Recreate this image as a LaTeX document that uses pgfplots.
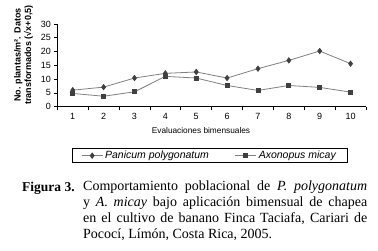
\documentclass[border=0pt]{standalone}
\usepackage{fontspec}
\setmainfont{Liberation Serif}
\newfontfamily\arial{Liberation Sans}
\usepackage{pgfplots}
\pgfplotsset{compat=1.18}
\definecolor{linegray}{gray}{0.5}
\definecolor{markgray}{gray}{0.25}
\begin{document}
\begin{tikzpicture}
\useasboundingbox (0,0) rectangle (378pt,250pt);
\begin{axis}[
  at={(57.3pt,143.3pt)}, anchor=south west,
  scale only axis, width=308.7pt, height=82.7pt,
  xmin=0.5, xmax=10.5, ymin=0, ymax=30,
  axis x line*=bottom, axis y line*=left,
  axis line style={-, black, line width=0.6pt},
  xtick={1,...,10},
  minor xtick={0.5,1.5,...,10.5},
  ytick={0,5,...,30},
  major x tick style={draw=none},
  minor x tick style={draw=black, line width=0.6pt},
  major y tick style={draw=black, line width=0.6pt},
  tick align=outside,
  major tick length=3pt, minor tick length=3pt,
  /pgf/number format/assume math mode=true,
  ticklabel style={font=\arial\fontsize{9}{10}\selectfont},
  legend style={at={(axis description cs:0.0476,-0.681)}, anchor=south west,
    draw=black, line width=0.6pt, inner xsep=9pt, inner ysep=0.5pt,
    font=\arial\itshape\fontsize{10.5}{12}\selectfont,
    /tikz/every even column/.style={column sep=24pt}},
  legend columns=2,
  legend image code/.code={\draw[mark repeat=2,mark phase=2,#1] plot coordinates {(0pt,0pt) (10.5pt,0pt) (21pt,0pt)};},
]
\addplot[linegray, line width=0.8pt, mark=diamond*, mark size=2.6pt,
  mark options={fill=markgray, draw=markgray}] coordinates {
  (1,6.0) (2,7.1) (3,10.4) (4,12.1) (5,12.6) (6,10.4) (7,13.8) (8,16.8) (9,20.2) (10,15.6)};
\addlegendentry{Panicum polygonatum}
\addplot[linegray, line width=0.8pt, mark=square*, mark size=2pt,
  mark options={fill=markgray, draw=markgray}] coordinates {
  (1,4.8) (2,3.8) (3,5.4) (4,11.0) (5,10.4) (6,7.7) (7,5.9) (8,7.7) (9,7.0) (10,5.3)};
\addlegendentry{Axonopus micay}
\end{axis}
\node[rotate=90, align=center, font=\arial\bfseries\fontsize{9}{10.5}\selectfont, inner sep=0]
  at (23.5pt,195pt) {No. plantas/m². Datos\\transformados (√x+0,5)};
\node[font=\arial\fontsize{8.3}{9}\selectfont, inner sep=0] at (201pt,119pt) {Evaluaciones bimensuales};
\node[anchor=base west, inner sep=0, font=\fontsize{13.5}{16}\selectfont\bfseries] at (22pt,59pt) {Figura 3.};
\node[anchor=north west, inner sep=0, text width=284pt, align=justify,
  font=\fontsize{14}{16}\selectfont] at (83pt,69pt)
  {\hyphenpenalty=10000 Comportamiento poblacional de \textit{P. polygonatum}\linebreak
   y \textit{A. micay} bajo aplicación bimensual de chapea\linebreak
   en el cultivo de banano Finca Taciafa, Cariari de\linebreak
   Pococí, Límón, Costa Rica, 2005.};
\end{tikzpicture}
\end{document}
